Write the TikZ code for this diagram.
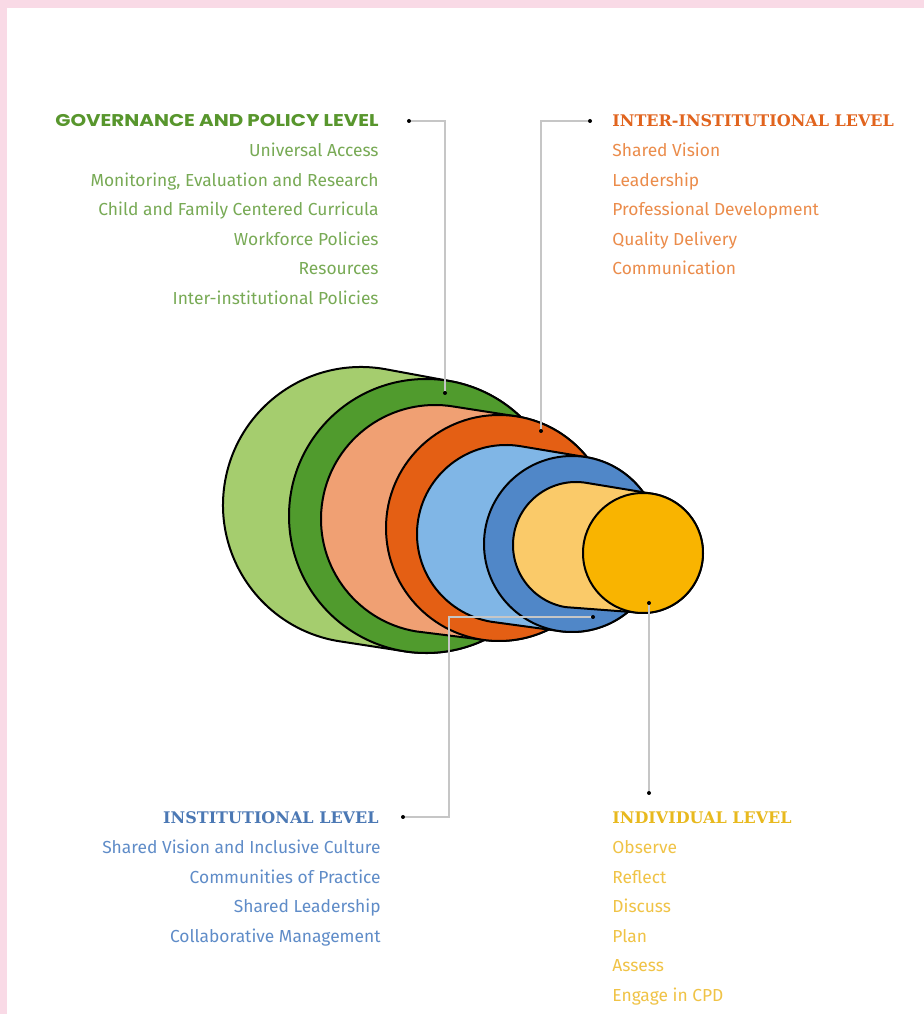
\documentclass[tikz,border=0pt]{standalone}
\usepackage{fontspec}
\setmainfont{Fira Sans}
\newfontfamily\govfont{Poppins}[FakeStretch=1.17]
\newfontfamily\slabfont{DejaVu Serif}
\usetikzlibrary{positioning}

\definecolor{frame}{RGB}{249,218,230}
\definecolor{govlight}{RGB}{165,205,110}
\definecolor{govdark}{RGB}{80,155,45}
\definecolor{interlight}{RGB}{240,160,115}
\definecolor{interdark}{RGB}{228,95,20}
\definecolor{instlight}{RGB}{128,182,230}
\definecolor{instdark}{RGB}{80,135,200}
\definecolor{indlight}{RGB}{250,202,105}
\definecolor{inddark}{RGB}{249,180,0}
\definecolor{govhead}{RGB}{88,150,45}
\definecolor{govtext}{RGB}{120,170,85}
\definecolor{interhead}{RGB}{225,100,30}
\definecolor{intertext}{RGB}{235,140,75}
\definecolor{insthead}{RGB}{75,120,180}
\definecolor{insttext}{RGB}{95,140,200}
\definecolor{indhead}{RGB}{232,185,30}
\definecolor{indtext}{RGB}{240,195,70}

\begin{document}
\begin{tikzpicture}[
  x=0.5pt, y=0.5pt,
  ring/.style={draw=black, line width=1pt},
  leader/.style={draw=gray!45, line width=0.7pt},
  dot/.style={circle, fill=black, inner sep=0pt, minimum size=2pt},
  item/.style={inner sep=0pt, font=\fontsize{8.7}{10}\selectfont},
  govtitle/.style={inner sep=0pt, anchor=base east, text=govhead,
    font=\govfont\bfseries\fontsize{8.5}{10}\selectfont},
  title/.style={inner sep=0pt, text=#1,
    font=\slabfont\bfseries\fontsize{8}{10}\selectfont},
  leftitem/.style={item, anchor=base east, text=#1},
  rightitem/.style={item, anchor=base west, text=#1},
]

% page frame
\fill[frame] (0,0) rectangle (924,1014);
\fill[white] (7,0) rectangle (924,1006);
\useasboundingbox (0,0) rectangle (924,1014);

% ── cylinders: back disc + hull, then front disc ─────────
\def\ta{80.4}
\foreach \bx/\by/\br/\fx/\fy/\fr/\cb/\cf in {
    361/509/138/426/498/137/govlight/govdark,
    435/495/114/499/486/113/interlight/interdark,
    506/480/89/572/470/88/instlight/instdark,
    576/469/63/643/461/60/indlight/inddark}{
  \filldraw[ring, fill=\cb] (\bx,\by) ++(\ta:\br)
    arc[start angle=\ta, end angle=\ta+180, radius=\br]
    -- ([shift={(\ta+180:\fr)}] \fx,\fy)
    arc[start angle=\ta-180, end angle=\ta, radius=\fr] -- cycle;
  \filldraw[ring, fill=\cf] (\fx,\fy) circle[radius=\fr];
}

% ── governance and policy level ──────────────────────────
\node[govtitle] (govtitle) at (379,887) {GOVERNANCE AND POLICY LEVEL};
\foreach \t [count=\i] in {Universal Access,
    {Monitoring, Evaluation and Research},
    Child and Family Centered Curricula, Workforce Policies,
    Resources, Inter-institutional Policies}
  \node[leftitem=govtext] (gov\i) at (379,887-\i*29.6) {\t};

% ── inter-institutional level ────────────────────────────
\node[title=interhead, anchor=base west] (intertitle) at (612,887)
  {INTER-INSTITUTIONAL LEVEL};
\foreach \t [count=\i] in {Shared Vision, Leadership,
    Professional Development, Quality Delivery, Communication}
  \node[rightitem=intertext] (inter\i) at (612,887-\i*29.6) {\t};

% ── institutional level ──────────────────────────────────
\node[title=insthead, anchor=base east] (insttitle) at (379,190)
  {INSTITUTIONAL LEVEL};
\foreach \t [count=\i] in {Shared Vision and Inclusive Culture,
    Communities of Practice, Shared Leadership,
    Collaborative Management}
  \node[leftitem=insttext] (inst\i) at (381,190-\i*29.6) {\t};

% ── individual level ─────────────────────────────────────
\node[title=indhead, anchor=base west] (indtitle) at (612,190)
  {INDIVIDUAL LEVEL};
\foreach \t [count=\i] in {Observe, Reflect, Discuss, Plan, Assess,
    Engage in CPD}
  \node[rightitem=indtext] (ind\i) at (612,190-\i*29.6) {\t};

% ── leaders from the lists into the rings ────────────────
\node[dot] (govdot)   at (409,893) {};
\node[dot] (govin)    at (445,621) {};
\node[dot] (interdot) at (590,893) {};
\node[dot] (interin)  at (541,583) {};
\node[dot] (instdot)  at (403,197) {};
\node[dot] (instin)   at (593,397) {};
\node[dot] (inddot)   at (649,221) {};
\node[dot] (indin)    at (649,411) {};
\coordinate (instbend) at (449,397);

\draw[leader] (govdot) -| (govin);
\draw[leader] (interdot) -| (interin);
\draw[leader] (instdot) -| (instbend) -- (instin);
\draw[leader] (inddot) -- (indin);

\end{tikzpicture}
\end{document}
